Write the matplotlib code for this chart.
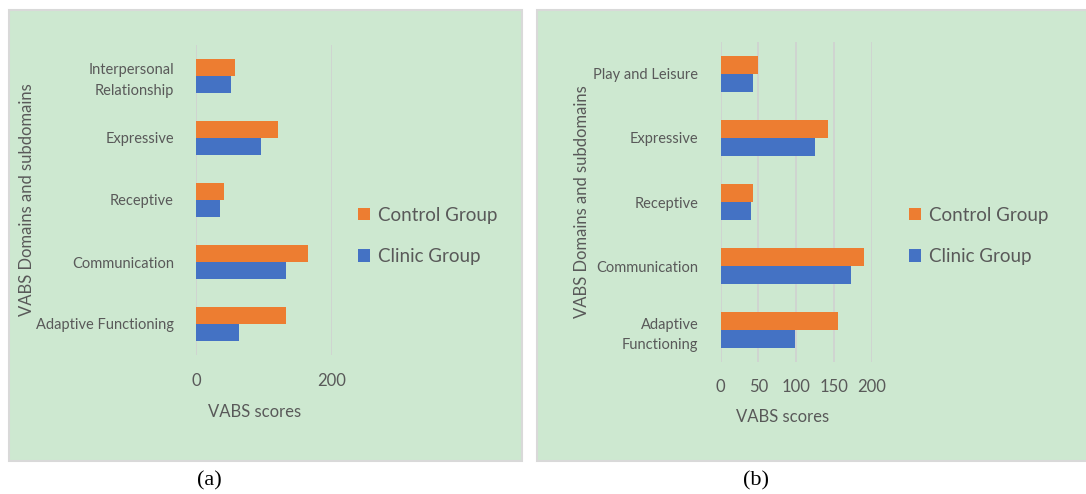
import matplotlib
matplotlib.use("Agg")
import matplotlib.pyplot as plt
from matplotlib.patches import Rectangle
import numpy as np

# ---- data ----
cats_a = ["Adaptive Functioning", "Communication", "Receptive", "Expressive",
          "Interpersonal\nRelationship"]
control_a = [133, 164, 41, 121, 58]
clinic_a = [63, 133, 35, 95, 52]
ticks_a = [0, 200]

cats_b = ["Adaptive\nFunctioning", "Communication", "Receptive", "Expressive",
          "Play and Leisure"]
control_b = [156, 190, 43, 142, 49]
clinic_b = [98, 172, 40, 125, 43]
ticks_b = [0, 50, 100, 150, 200]

series_names = ["Control Group", "Clinic Group"]
panel_labels = ["(a)", "(b)"]

W, H = 1086, 494
ORANGE = "#ED7D31"
BLUE = "#4472C4"
BG = "#CDE8D0"
GREY_TXT = "#595959"
GRID = "#D0D0D0"
FONT = "Lato"

fig = plt.figure(figsize=(W / 100, H / 100), dpi=100)
fig.patch.set_facecolor("white")


def fr(x0, y0, x1, y1):
    """pixel box (top-left origin) -> figure rect"""
    return [x0 / W, 1 - y1 / H, (x1 - x0) / W, (y1 - y0) / H]


def panel(bg_box, ax_box, cats, control, clinic, ticks, ylabel_x, xlabel_y,
          xlabel_x, tick_y, leg_x, leg_y, plabel_x, plabel):
    r = fr(*bg_box)
    fig.patches.append(Rectangle((r[0], r[1]), r[2], r[3], transform=fig.transFigure,
                                 facecolor=BG, edgecolor="#D9D9D9", linewidth=1.5,
                                 zorder=-5))
    ax = fig.add_axes(fr(*ax_box))
    ax.set_zorder(2)
    ax.set_facecolor("none")
    y = np.arange(len(cats))
    h = 0.28
    b1 = ax.barh(y + h / 2, control, height=h, color=ORANGE, label=series_names[0],
                 zorder=3)
    b2 = ax.barh(y - h / 2, clinic, height=h, color=BLUE, label=series_names[1],
                 zorder=3)
    ax.set_ylim(-0.5, len(cats) - 0.5)
    ax.set_xlim(ticks[0], ticks[-1])
    ax.set_xticks(ticks)
    ax.set_yticks(y)
    ax.set_yticklabels(cats, fontsize=10.5, color=GREY_TXT, family=FONT,
                       linespacing=1.6)
    for s in ["top", "right", "bottom", "left"]:
        ax.spines[s].set_visible(False)
    for t in ticks:
        ax.axvline(t, color=GRID, lw=1.2, zorder=1)
    ax.tick_params(axis="both", length=0)
    ax.tick_params(axis="y", pad=16)
    ax.set_xticklabels([str(t) for t in ticks])
    for lab in ax.get_xticklabels():
        lab.set_fontsize(12)
        lab.set_color(GREY_TXT)
        lab.set_family(FONT)
    ax.tick_params(axis="x", pad=(tick_y - ax_box[3]) * 72 / 100 - 5)
    fig.text(xlabel_x / W, 1 - xlabel_y / H, "VABS scores", ha="center", va="center",
             fontsize=12, color=GREY_TXT, family=FONT)
    fig.text(ylabel_x / W, 1 - ((ax_box[1] + ax_box[3]) / 2) / H,
             "VABS Domains and subdomains", rotation=90, ha="center", va="center",
             fontsize=12, color=GREY_TXT, family=FONT)
    fig.legend(handles=[b1, b2], labels=series_names, loc="center left",
               bbox_to_anchor=(leg_x / W, 1 - leg_y / H), frameon=False,
               prop={"family": FONT, "size": 13.5}, labelcolor=GREY_TXT,
               handlelength=0.65, handleheight=0.65, handletextpad=0.45,
               labelspacing=1.3, borderpad=0.2, borderaxespad=0)
    fig.text(plabel_x / W, 1 - 481 / H, plabel, ha="center", va="center",
             fontsize=16, family="Liberation Serif", color="black")
    return ax


panel((9, 10, 522, 461), (196, 45, 332, 355), cats_a, control_a, clinic_a, ticks_a,
      ylabel_x=27, xlabel_y=412, xlabel_x=255, tick_y=380, leg_x=354, leg_y=236,
      plabel_x=209, plabel=panel_labels[0])
panel((537, 10, 1090, 461), (720.7, 42, 871.7, 362), cats_b, control_b, clinic_b,
      ticks_b, ylabel_x=582, xlabel_y=417, xlabel_x=783, tick_y=386, leg_x=905,
      leg_y=236, plabel_x=756, plabel=panel_labels[1])

fig.savefig("out.png", dpi=100, facecolor="white")
